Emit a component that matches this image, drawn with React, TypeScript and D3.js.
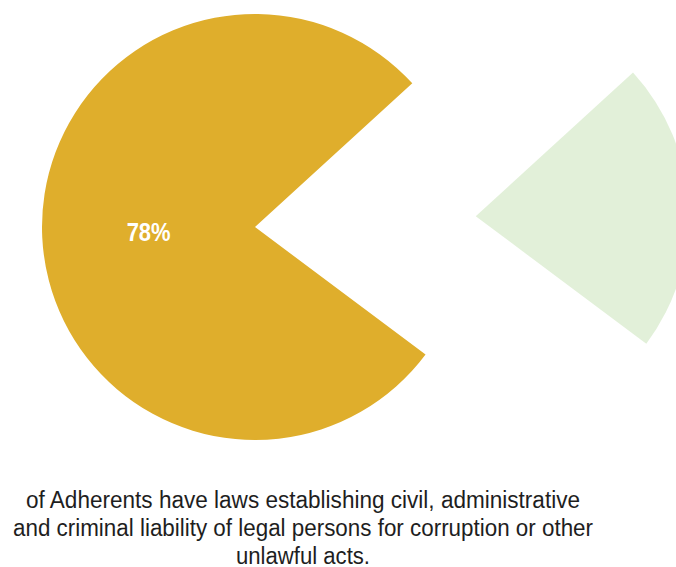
import React from "react";
import * as d3 from "d3";

const categories = ["Yes", "No"];
const values = [78, 22];
const sliceColors = ["#DFAE2C", "#E2F0D9"];
const pctLabels = ["78%", ""];
const captionLines = [
  "of Adherents have laws establishing civil, administrative",
  "and criminal liability of legal persons for corruption or other",
  "unlawful acts.",
];
const captionWidths = [554, 580, 134];

const W = 676;
const H = 567;

export default function App() {
  const cx = 255;
  const cy = 227;
  const radius = 213;
  const explode = 221;
  const startDeg = 126.8;

  const pie = d3
    .pie<number>()
    .sort(null)
    .value((d) => d)
    .startAngle((startDeg * Math.PI) / 180)
    .endAngle((startDeg * Math.PI) / 180 + 2 * Math.PI);
  const arcs = pie(values);
  const arc = d3.arc<d3.PieArcDatum<number>>().innerRadius(0).outerRadius(radius);

  return (
    <svg
      width={W}
      height={H}
      style={{ position: "absolute", left: 0, top: 0, background: "#fff" }}
    >
      <g transform={`translate(${cx},${cy})`}>
        {arcs.map((a, i) => {
          const mid = (a.startAngle + a.endAngle) / 2;
          const off = i === 1 ? explode : 0;
          const dx = Math.sin(mid) * off;
          const dy = -Math.cos(mid) * off;
          return (
            <path
              key={categories[i]}
              d={arc(a) || ""}
              fill={sliceColors[i]}
              transform={`translate(${dx},${dy})`}
            />
          );
        })}
        {arcs.map((a, i) => {
          if (!pctLabels[i]) return null;
          const [lx, ly] = arc.centroid(a);
          return (
            <text
              key={"l" + i}
              x={lx}
              y={ly}
              dy="0.35em"
              textAnchor="middle"
              fill="#fff"
              fontWeight="bold"
              fontSize={25}
              fontFamily="'Liberation Sans Narrow', 'Liberation Sans', Arial, sans-serif"
              textLength={44}
              lengthAdjust="spacingAndGlyphs"
            >
              {pctLabels[i]}
            </text>
          );
        })}
      </g>
      {captionLines.map((line, i) => (
        <text
          key={"c" + i}
          x={303}
          y={507.5 + i * 28.3}
          textAnchor="middle"
          fill="#1e1e1e"
          fontSize={23}
          fontFamily="'Liberation Sans Narrow', 'Liberation Sans', Arial, sans-serif"
          textLength={captionWidths[i]}
          lengthAdjust="spacingAndGlyphs"
        >
          {line}
        </text>
      ))}
    </svg>
  );
}
